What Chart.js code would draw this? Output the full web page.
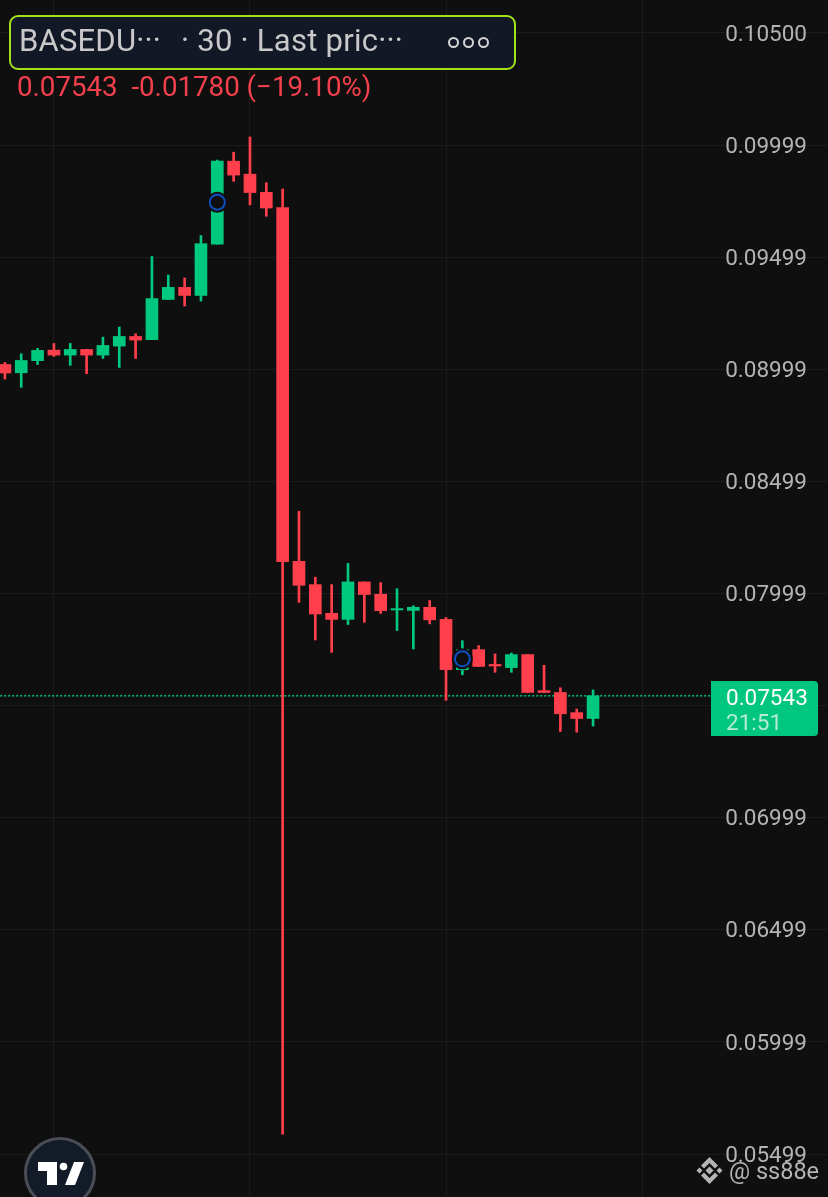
<!DOCTYPE html>
<html>
<head>
<meta charset="utf-8">
<script src="https://cdn.jsdelivr.net/npm/chart.js@4"></script>
<style>
html,body{margin:0;padding:0;background:#0f0f0f;width:828px;height:1197px;overflow:hidden;font-family:Roboto,sans-serif}
#wrap{position:relative;width:828px;height:1197px}
canvas{position:absolute;left:0;top:0}
.t{position:absolute;white-space:pre;line-height:1}
#box{position:absolute;left:9px;top:15px;width:503px;height:51px;border:2px solid #a2e01c;border-radius:9px;background:#121826}
#tag{position:absolute;left:711px;top:681px;width:107px;height:55px;background:#00c67f;border-radius:0 4px 4px 0}
.dot{position:absolute;top:37px;width:7px;height:7px;border:2.2px solid #d6d6d6;border-radius:50%}
svg{position:absolute;left:0;top:0}
</style>
</head>
<body>
<div id="wrap">
<canvas id="c" width="828" height="1197"></canvas>
<div id="box"></div>
<div class="t" style="left:19px;top:25px;font-size:31px;color:#c9c9c9;letter-spacing:.2px" >BASEDU···</div>
<div class="t" style="left:181px;top:25px;font-size:31px;color:#c9c9c9;letter-spacing:.25px">· 30 · Last pric···</div>
<div class="dot" style="left:448px"></div>
<div class="dot" style="left:463px"></div>
<div class="dot" style="left:478px"></div>
<div class="t" style="left:17px;top:73px;font-size:27.7px;color:#f2404c">0.07543  -0.01780 (−19.10%)</div>
<div id="tag"></div>
<div class="t" style="left:726px;top:686px;font-size:22.5px;color:#ffffff">0.07543</div>
<div class="t" style="left:726px;top:711px;font-size:22.5px;color:#b4ecd4">21:51</div>
<svg width="828" height="1197" viewBox="0 0 828 1197">
  <circle cx="60" cy="1173" r="34.5" fill="#131a28" stroke="#4a4d55" stroke-width="3"/>
  <path d="M38 1162H57V1185H47V1171H38Z" fill="#fff"/>
  <circle cx="63.5" cy="1166.5" r="3.8" fill="#fff"/>
  <path d="M74 1162H84L75 1185H65Z" fill="#fff"/>
  <g fill="#b4b4b4">
    <path d="M709.5 1157L718 1165.5L715 1168.5L709.5 1163L704 1168.5L701 1165.5Z"/>
    <path d="M709.5 1184L718 1175.5L715 1172.5L709.5 1178L704 1172.5L701 1175.5Z"/>
    <path d="M709.5 1166.5L713.5 1170.5L709.5 1174.5L705.5 1170.5Z"/>
    <path d="M699.5 1167.5L702.5 1170.5L699.5 1173.5L696.5 1170.5Z"/>
    <path d="M719.5 1167.5L722.5 1170.5L719.5 1173.5L716.5 1170.5Z"/>
  </g>
</svg>
<div class="t" style="left:729px;top:1160px;font-size:23.5px;color:#b4b4b4">@ ss88e</div>
</div>
<script>
const opens  = [.09021,.08984,.09038,.09085,.09063,.09088,.09063,.09103,.09146,.09132,.09311,.09365,.09329,.09558,.09928,.09870,.09789,.09721,.08143,.08039,.07911,.07884,.08051,.07996,.07926,.07924,.07938,.07884,.07660,.07749,.07683,.07669,.07727,.07566,.07558,.07468,.07442];
const highs  = [.09030,.09069,.09093,.09115,.09115,.09088,.09143,.09188,.09158,.09503,.09420,.09407,.09596,.09933,.09968,.10036,.09832,.09803,.08366,.08072,.08039,.08134,.08051,.08048,.08021,.07945,.07968,.07892,.07789,.07767,.07730,.07734,.07727,.07679,.07579,.07484,.07569];
const lows   = [.08956,.08919,.09021,.09057,.09017,.08980,.09048,.09008,.09048,.09132,.09311,.09282,.09304,.09558,.09838,.09733,.09682,.05588,.07960,.07792,.07737,.07861,.07871,.07911,.07834,.07752,.07864,.07523,.07637,.07674,.07648,.07648,.07558,.07558,.07384,.07381,.07408];
const closes = [.08983,.09039,.09084,.09063,.09088,.09063,.09106,.09146,.09130,.09315,.09365,.09329,.09560,.09928,.09866,.09788,.09719,.08142,.08036,.07908,.07884,.08051,.07995,.07923,.07932,.07938,.07882,.07660,.07749,.07674,.07676,.07727,.07558,.07558,.07463,.07442,.07543];
const priceTicks = [.105,.09999,.09499,.08999,.08499,.07999,.07499,.06999,.06499,.05999,.05499];
const hiddenTick = .07499;
const timeTicks = [3,15,27,39];
const markerIndex = [13,28];
const markerPrice = [.09745,.07708];
const lastPrice = .07543;
const lastPriceSpan = [-2,44];
const upColor = '#00c87f', downColor = '#ff3f4c', gridColor = '#1b1b1b';

const idx = opens.map((_, i) => i);
const colors = idx.map(i => closes[i] >= opens[i] ? upColor : downColor);
const markers = markerIndex.map((x, i) => ({x, y: markerPrice[i]}));

new Chart(document.getElementById('c'), {
  type: 'bar',
  data: {
    datasets: [
      {type:'line', data:lastPriceSpan.map(x=>({x,y:lastPrice})), borderColor:upColor, borderWidth:1.5, borderDash:[2,2], pointRadius:0, order:5},
      {data: idx.map(i => ({x:i, y:[lows[i], highs[i]]})), backgroundColor: colors, barThickness:2, grouped:false, order:4},
      {data: idx.map(i => ({x:i, y:[opens[i], closes[i]]})), backgroundColor: colors, barThickness:12, grouped:false, order:3},
      {type:'scatter', data: markers, pointRadius:10.5, backgroundColor:'#0f0f0f', borderWidth:0, order:2},
      {type:'scatter', data: markers, pointRadius:7.5, backgroundColor:'#0f0f0f', borderColor:'#0f4fc4', borderWidth:2, order:1}
    ]
  },
  options: {
    responsive:false, animation:false, devicePixelRatio:1,
    layout:{padding:0, autoPadding:false},
    plugins:{legend:{display:false}, tooltip:{enabled:false}},
    scales:{
      x:{type:'linear', min:-0.30, max:50.38, offset:false, display:true,
         afterBuildTicks:s=>{s.ticks=timeTicks.map(value=>({value}));},
         afterFit:s=>{s.height=0;},
         grid:{color:gridColor, lineWidth:1, offset:false, drawTicks:false},
         border:{display:false},
         ticks:{display:false}},
      y:{type:'linear', position:'right', min:.053073, max:.10647,
         afterBuildTicks:s=>{s.ticks=priceTicks.map(value=>({value}));},
         afterFit:s=>{s.width=0; s.paddingTop=0; s.paddingBottom=0;},
         grid:{color:gridColor, lineWidth:1, drawTicks:false},
         border:{display:false},
         ticks:{mirror:true, padding:-21, labelOffset:2, color:'#b4b4b4', font:{family:'Roboto', size:22.5},
                callback:v=> v===hiddenTick ? '' : v.toFixed(5)}}
    }
  }
});
</script>
</body>
</html>
